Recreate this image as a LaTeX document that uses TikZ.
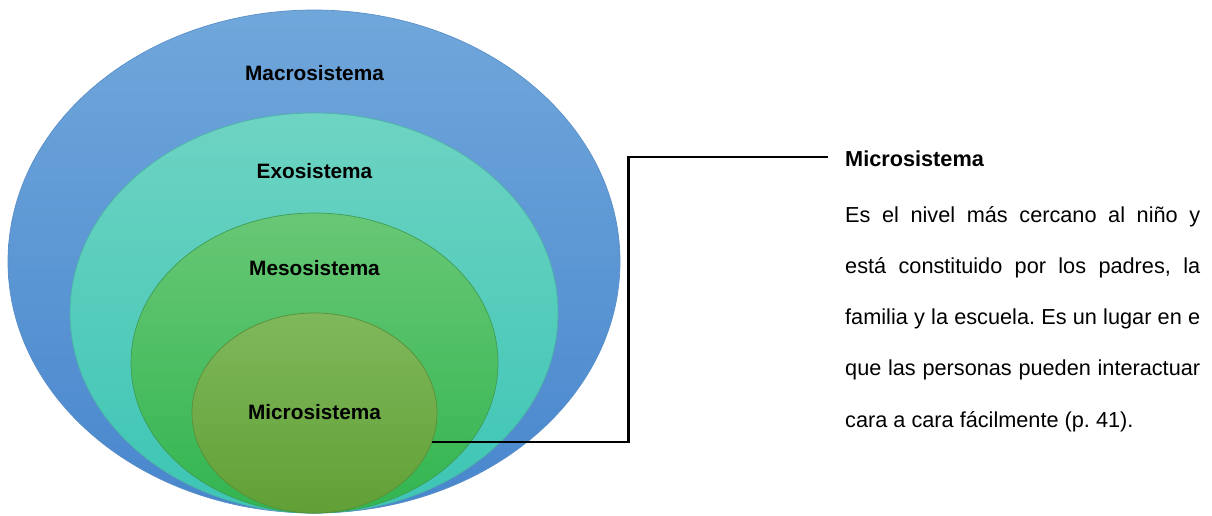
\documentclass[tikz,border=0pt]{standalone}
\usepackage{fontspec}
\setmainfont{Liberation Sans}
\usetikzlibrary{shapes.geometric}
\definecolor{macT}{HTML}{70A7DB}
\definecolor{macB}{HTML}{4886CD}
\definecolor{macD}{HTML}{5A8FC8}
\definecolor{exoT}{HTML}{6ED3C2}
\definecolor{exoB}{HTML}{3CC5B5}
\definecolor{exoD}{HTML}{4DB3A6}
\definecolor{mesT}{HTML}{68C775}
\definecolor{mesB}{HTML}{32B550}
\definecolor{mesD}{HTML}{3E9E55}
\definecolor{micT}{HTML}{7FB85C}
\definecolor{micB}{HTML}{61A035}
\definecolor{micD}{HTML}{5A8F3A}
\tikzset{
  sys/.style={ellipse, inner sep=0pt, outer sep=0pt, line width=0.7pt},
  syslabel/.style={font=\bfseries\fontsize{20.8}{24}\selectfont, anchor=base, inner sep=0pt},
  bodyline/.style={font=\fontsize{21.7}{26}\selectfont, anchor=base west, inner sep=0pt},
  link/.style={line width=2.4pt, black}
}
\begin{document}
\begin{tikzpicture}[x=1pt,y=-1pt]
\useasboundingbox (0,0) rectangle (1212,515);
\node[sys, minimum width=612pt, minimum height=503pt, top color=macT, bottom color=macB, draw=macD] (macro) at (314,261.5) {};
\node[sys, minimum width=488pt, minimum height=400pt, top color=exoT, bottom color=exoB, draw=exoD] (exo) at (314,313) {};
\node[sys, minimum width=367pt, minimum height=300pt, top color=mesT, bottom color=mesB, draw=mesD] (meso) at (314.5,363) {};
\node[sys, minimum width=245pt, minimum height=200pt, top color=micT, bottom color=micB, draw=micD] (micro) at (314.5,413) {};
\node[syslabel] (lmacro) at (314.5,80) {Macrosistema};
\node[syslabel] (lexo) at (314.5,178) {Exosistema};
\node[syslabel] (lmeso) at (314.5,275.5) {Mesosistema};
\node[syslabel] (lmicro) at (314.5,419.5) {Microsistema};
\coordinate (corner) at (628.5,157);
\coordinate (cend) at (828,157);
\draw[link] (micro.-14) -| (corner) -- (cend);
\node[bodyline, font=\bfseries\fontsize{21.7}{26}\selectfont] (title) at (845,166) {Microsistema};
\node[bodyline] (b1) at (845,222) {\frenchspacing\makebox[355pt][s]{Es el nivel más cercano al niño y}};
\node[bodyline] (b2) at (845,273.25) {\frenchspacing\makebox[355pt][s]{está constituido por los padres, la}};
\node[bodyline] (b3) at (845,324.5) {\frenchspacing\makebox[355pt][s]{familia y la escuela. Es un lugar en e}};
\node[bodyline] (b4) at (845,375.75) {\frenchspacing\makebox[355pt][s]{que las personas pueden interactuar}};
\node[bodyline] (b5) at (845,427) {\frenchspacing cara a cara fácilmente (p. 41).};
\end{tikzpicture}
\end{document}
